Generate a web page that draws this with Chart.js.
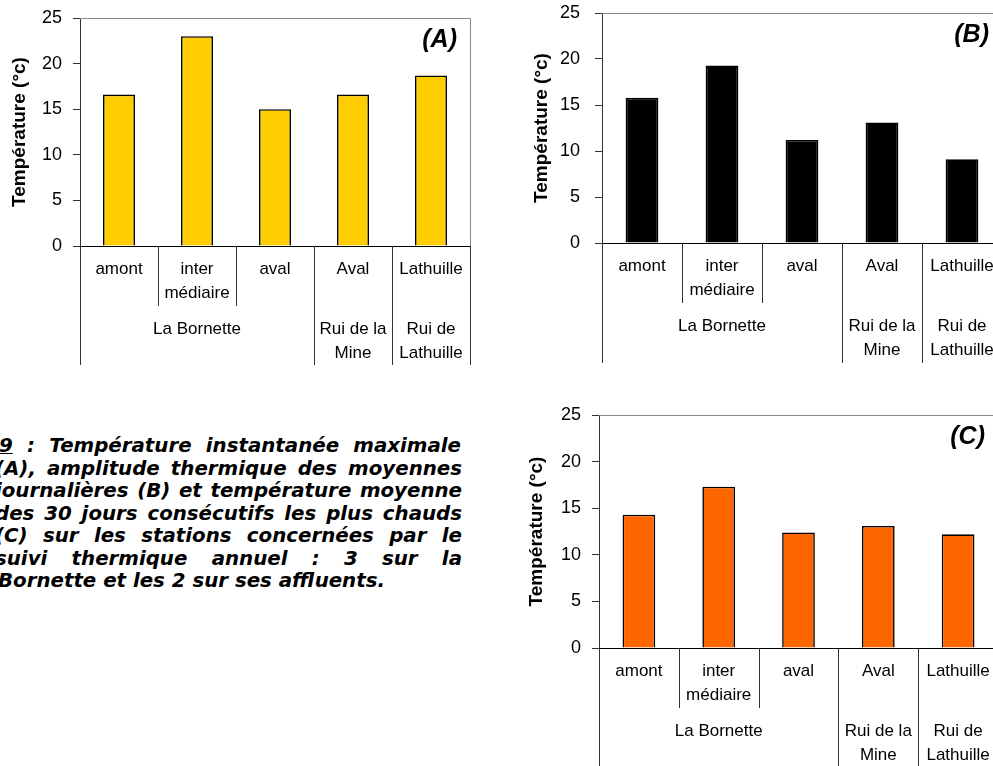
<!DOCTYPE html>
<html>
<head>
<meta charset="utf-8">
<script src="https://cdn.jsdelivr.net/npm/chart.js@4.4.1/dist/chart.umd.min.js"></script>
<style>
html,body{margin:0;padding:0;width:993px;height:766px;overflow:hidden;background:#fff;}
canvas{position:absolute;}
.cap{position:absolute;font-family:"DejaVu Sans",sans-serif;font-weight:700;font-style:italic;font-size:19.8px;line-height:22px;color:#000;text-align:justify;text-align-last:justify;}
.cap.last{text-align:left;text-align-last:left;}
</style>
</head>
<body>
<canvas id="chartA" width="482" height="370" style="left:0px;top:0px;"></canvas>
<canvas id="chartB" width="490" height="370" style="left:522px;top:0px;"></canvas>
<canvas id="chartC" width="490" height="386" style="left:519px;top:380px;"></canvas>

<div class="cap" style="left:-1px;top:435px;width:462px;"><u>9</u> : Température instantanée maximale</div>
<div class="cap" style="left:-5px;top:458px;width:467px;">(A), amplitude thermique des moyennes</div>
<div class="cap" style="left:-5px;top:480px;width:467px;">journalières (B) et température moyenne</div>
<div class="cap" style="left:-5px;top:503px;width:467px;">des 30 jours consécutifs les plus chauds</div>
<div class="cap" style="left:-5px;top:525px;width:467px;">(C) sur les stations concernées par le</div>
<div class="cap" style="left:-5px;top:548px;width:467px;">suivi thermique annuel : 3 sur la</div>
<div class="cap last" style="left:-2px;top:570px;width:467px;">Bornette et les 2 sur ses affluents.</div>

<script>
// ---- data ----
const categories = ['amont', ['inter', 'médiaire'], 'aval', 'Aval', 'Lathuille'];
const groupLabels = ['La Bornette', ['Rui de la', 'Mine'], ['Rui de', 'Lathuille']];
const groupSpans = [3, 1, 1];
const valuesA = [16.6, 23.0, 15.0, 16.6, 18.7];
const valuesB = [15.8, 19.3, 11.2, 13.1, 9.1];
const valuesC = [14.3, 17.3, 12.4, 13.1, 12.2];
const yMin = 0, yMax = 25, yStep = 5;
const yTitle = 'Température (°c)';
const panelLabels = ['(A)', '(B)', '(C)'];

const FONT = '"Liberation Sans", Arial, sans-serif';

const tablePlugin = {
  id: 'tableAxis',
  afterDraw(chart, args, opts) {
    const {ctx, chartArea: a} = chart;
    const x = chart.scales.x;
    const n = chart.data.labels.length;
    const step = x.getPixelForValue(1) - x.getPixelForValue(0);
    const bnd = i => x.getPixelForValue(i) - step / 2;
    const y0 = a.bottom;
    ctx.save();
    // top & right frame
    ctx.strokeStyle = '#8a8a8a';
    ctx.lineWidth = 1;
    ctx.beginPath();
    ctx.moveTo(a.left, Math.round(a.top) + 0.5);
    ctx.lineTo(Math.round(a.right) + 0.5, Math.round(a.top) + 0.5);
    ctx.lineTo(Math.round(a.right) + 0.5, y0);
    ctx.stroke();
    // group edges
    const edges = new Set([0]);
    let s = 0;
    groupSpans.forEach(sp => { s += sp; edges.add(s); });
    ctx.strokeStyle = '#333';
    for (let i = 0; i <= n; i++) {
      const len = edges.has(i) ? opts.longLen : 60;
      const px = Math.round(bnd(i)) + 0.5;
      ctx.beginPath();
      ctx.moveTo(px, y0);
      ctx.lineTo(px, y0 + len);
      ctx.stroke();
    }
    ctx.fillStyle = '#000';
    ctx.font = '17px ' + FONT;
    ctx.textAlign = 'center';
    ctx.textBaseline = 'middle';
    categories.forEach((lab, i) => {
      [].concat(lab).forEach((t, k) => ctx.fillText(t, x.getPixelForValue(i), y0 + 23 + 24 * k));
    });
    let start = 0;
    groupLabels.forEach((lab, g) => {
      const sp = groupSpans[g];
      const cx = (bnd(start) + bnd(start + sp)) / 2;
      [].concat(lab).forEach((t, k) => ctx.fillText(t, cx, y0 + 83 + 24 * k));
      start += sp;
    });
    ctx.font = 'italic bold 25px ' + FONT;
    ctx.textAlign = 'right';
    ctx.fillText(opts.panel, a.right - 13, a.top + 22);
    ctx.restore();
  }
};

function makeChart(id, values, color, panel, geo) {
  return new Chart(document.getElementById(id), {
    type: 'bar',
    data: {
      labels: categories.map(c => [].concat(c).join(' ')),
      datasets: [{
        data: values,
        backgroundColor: color,
        borderColor: '#000',
        borderWidth: 1.6,
        barPercentage: 0.41,
        categoryPercentage: 1.0
      }]
    },
    options: {
      responsive: false,
      animation: false,
      events: [],
      layout: {padding: {top: geo.top, right: geo.right, bottom: 0, left: 0}},
      plugins: {
        legend: {display: false},
        tooltip: {enabled: false},
        tableAxis: {panel: panel, longLen: geo.longLen}
      },
      scales: {
        x: {
          ticks: {display: false},
          grid: {drawOnChartArea: false, drawTicks: false},
          border: {color: '#000', width: 1},
          afterFit(sc) { sc.height = geo.xh; }
        },
        y: {
          min: yMin, max: yMax,
          ticks: {stepSize: yStep, color: '#000', font: {family: FONT, size: 18}, padding: geo.tpad},
          grid: {drawOnChartArea: false, tickLength: 7, color: '#333'},
          border: {color: '#333', width: 1},
          title: {display: true, text: yTitle, color: '#000', font: {family: FONT, size: 19, weight: 'bold'}, padding: {top: geo.titlePad, bottom: 0}},
          afterFit(sc) { sc.width = 80; sc.paddingTop = 4; sc.paddingBottom = 4; }
        }
      }
    },
    plugins: [tablePlugin]
  });
}

makeChart('chartA', valuesA, '#FFCC00', panelLabels[0], {top: 18, right: 12, xh: 124, longLen: 119, tpad: 11, titlePad: 8.6});
makeChart('chartB', valuesB, '#000000', panelLabels[1], {top: 13, right: 10, xh: 127, longLen: 120, tpad: 15, titlePad: 8.6});
makeChart('chartC', valuesC, '#FF6600', panelLabels[2], {top: 35, right: 11, xh: 118, longLen: 140, tpad: 11, titlePad: 6.6});
</script>
</body>
</html>
